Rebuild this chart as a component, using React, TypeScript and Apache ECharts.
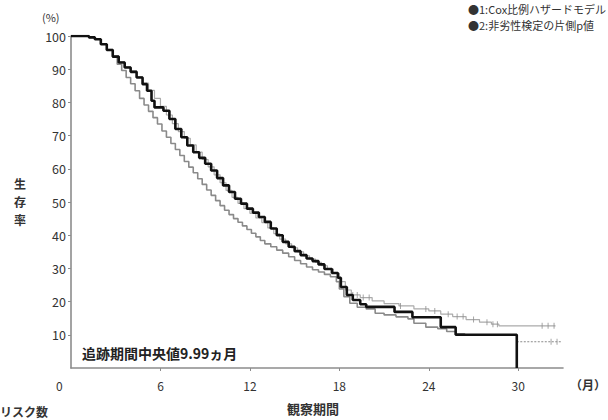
import React, { useEffect, useRef } from "react";
import * as echarts from "echarts";

// Kaplan-Meier curves: [month, survival %]
const curveBlack: [number, number][] = [
  [0, 100], [1.2, 99.6], [1.6, 99.0], [2.0, 97.5], [2.4, 95.8], [2.8, 93.8], [3.2, 92.0], [3.6, 90.5],
  [4.0, 89.2], [4.4, 87.5], [4.8, 85.5], [5.1, 83.5], [5.4, 80.5], [5.6, 78.5], [6.2, 77.5], [6.6, 75.0],
  [7.0, 72.0], [7.4, 69.5], [7.8, 67.0], [8.2, 65.0], [8.6, 63.3], [9.0, 61.5], [9.4, 59.5], [9.8, 57.2],
  [10.2, 55.0], [10.6, 53.0], [11.0, 51.0], [11.4, 49.5], [11.8, 48.0], [12.2, 46.8], [12.6, 45.5],
  [13.0, 44.0], [13.4, 42.0], [13.8, 40.0], [14.2, 38.0], [14.6, 36.5], [15.0, 35.2], [15.4, 34.0],
  [15.8, 33.0], [16.2, 32.2], [16.6, 31.2], [17.0, 29.8], [17.5, 28.6], [17.9, 27.2], [18.1, 24.4],
  [18.5, 22.0], [18.9, 20.5], [19.4, 19.2], [19.8, 18.4], [21.7, 16.9], [22.9, 15.3], [24.8, 12.3],
  [25.8, 10.0], [29.9, 0],
];

const curveGray: [number, number][] = [
  [0, 100], [1.2, 99.6], [1.6, 99.0], [2.0, 97.5], [2.4, 95.8], [2.8, 93.6], [3.1, 91.5], [3.4, 89.6],
  [3.7, 87.5], [4.0, 85.6], [4.3, 83.5], [4.6, 81.2], [4.9, 79.2], [5.2, 77.3], [5.5, 75.4], [5.8, 73.5],
  [6.1, 71.4], [6.4, 69.5], [6.7, 67.6], [7.0, 65.8], [7.3, 64.0], [7.6, 62.2], [7.9, 60.5], [8.2, 58.8],
  [8.5, 57.0], [8.8, 55.3], [9.1, 53.6], [9.4, 52.0], [9.7, 50.4], [10.0, 48.9], [10.3, 47.5], [10.6, 46.2],
  [10.9, 45.0], [11.2, 43.9], [11.5, 42.8], [11.8, 41.7], [12.1, 40.6], [12.4, 39.5], [12.7, 38.4],
  [13.0, 37.4], [13.4, 36.5], [13.8, 35.5], [14.2, 34.6], [14.6, 33.5], [15.0, 32.4], [15.4, 31.4],
  [15.8, 30.4], [16.2, 29.6], [16.6, 28.9], [17.0, 28.2], [17.4, 27.5], [17.8, 26.0], [18.0, 23.8],
  [18.3, 21.5], [18.7, 19.5], [19.2, 18.3], [19.8, 17.8], [20.4, 16.5], [21.0, 16.0], [21.8, 15.4],
  [22.6, 14.8], [23.0, 13.5], [23.8, 12.3], [24.6, 11.8], [25.2, 11.0], [25.8, 10.3], [26.4, 10.0],
  [29.9, 7.9],
];
const curveGrayTail: [number, number][] = [[29.9, 7.9], [32.9, 7.9]];

const curveLight: [number, number][] = [
  [0, 100], [1.2, 99.6], [1.6, 99.0], [2.0, 97.6], [2.4, 96.0], [2.8, 94.0], [3.2, 92.3], [3.6, 90.8],
  [4.0, 89.5], [4.4, 87.8], [4.8, 85.8], [5.2, 83.6], [5.6, 81.2], [6.0, 78.8], [6.4, 76.2], [6.8, 73.6],
  [7.2, 71.2], [7.6, 69.2], [8.0, 67.2], [8.4, 65.0], [8.8, 62.8], [9.2, 60.6], [9.6, 58.2], [10.0, 55.8],
  [10.4, 53.5], [10.8, 51.4], [11.2, 49.6], [11.6, 48.0], [12.0, 46.6], [12.4, 45.2], [12.8, 43.8],
  [13.2, 42.2], [13.6, 40.5], [14.0, 38.8], [14.4, 37.4], [14.8, 36.2], [15.2, 35.0], [15.6, 33.8],
  [16.0, 32.8], [16.4, 31.8], [16.8, 30.8], [17.2, 29.8], [17.6, 28.5], [18.0, 26.0], [18.4, 23.5],
  [18.8, 22.0], [19.4, 21.2], [20.2, 20.2], [21.0, 19.4], [22.0, 18.7], [23.0, 17.8], [24.0, 17.2],
  [24.8, 16.2], [25.6, 15.5], [26.5, 14.6], [27.4, 13.8], [28.2, 13.2], [28.7, 12.7], [32.5, 12.7],
];

const censorLight: [number, number][] = [
  [18.9, 22.0], [19.2, 22.0], [19.6, 21.2], [20.0, 21.2], [22.1, 18.7], [23.8, 17.8], [24.4, 17.2],
  [25.3, 16.2], [25.9, 15.5], [26.3, 15.5], [27.0, 14.6], [27.9, 13.8], [28.3, 13.2], [28.6, 13.2],
  [31.6, 12.7], [32.0, 12.7], [32.4, 12.7],
];
const censorGray: [number, number][] = [[32.2, 7.9], [32.6, 7.9]];

const xTicks = [6, 12, 18, 24, 30];
const yTicks = [10, 20, 30, 40, 50, 60, 70, 80, 90, 100];
const yTitleChars = ["生", "存", "率"];

const JP = '"Noto Sans CJK JP", "Noto Sans", sans-serif';

export default function App() {
  const ref = useRef<HTMLDivElement>(null);
  useEffect(() => {
    if (!ref.current) return;
    const chart = echarts.init(ref.current, null, { renderer: "svg" });
    chart.setOption({
      animation: false,
      backgroundColor: "#ffffff",
      grid: { left: 71, top: 36, width: 492, height: 332, containLabel: false },
      xAxis: {
        type: "value",
        min: 0,
        max: 33,
        interval: 6,
        axisLine: { lineStyle: { color: "#8c8c8c", width: 1.6 } },
        axisTick: { show: true, length: 3, customValues: xTicks, lineStyle: { color: "#8c8c8c" } },
        axisLabel: {
          customValues: xTicks,
          margin: 11,
          color: "#333",
          fontSize: 12,
          fontFamily: JP,
        },
        splitLine: { show: false },
      },
      yAxis: {
        type: "value",
        min: 0,
        max: 100,
        interval: 10,
        axisLine: { show: true, lineStyle: { color: "#8c8c8c", width: 1.6 } },
        axisTick: { show: true, length: 3, customValues: yTicks, lineStyle: { color: "#8c8c8c" } },
        axisLabel: {
          customValues: yTicks,
          margin: 5,
          color: "#333",
          fontSize: 12.5,
          fontFamily: JP,
        },
        splitLine: { show: false },
      },
      series: [
        {
          type: "line", step: "end", data: curveLight, showSymbol: false, symbol: "none",
          lineStyle: { color: "#ababab", width: 1.2 }, z: 2,
        },
        {
          type: "line", step: "end", data: curveGray, showSymbol: false, symbol: "none",
          lineStyle: { color: "#8a8a8a", width: 1.6 }, z: 3,
        },
        {
          type: "line", step: "end", data: curveGrayTail, showSymbol: false, symbol: "none",
          lineStyle: { color: "#8a8a8a", width: 1.2, type: [2, 1.5] }, z: 3,
        },
        {
          type: "line", step: "end", data: curveBlack, showSymbol: false, symbol: "none",
          lineStyle: { color: "#111111", width: 2.6 }, z: 5,
        },
        {
          type: "scatter", data: censorLight, symbol: "rect", symbolSize: [1, 6],
          itemStyle: { color: "#8f8f8f" }, z: 4,
        },
        {
          type: "scatter", data: censorGray, symbol: "rect", symbolSize: [1, 6],
          itemStyle: { color: "#8f8f8f" }, z: 4,
        },
      ],
      graphic: [
        { type: "text", left: 42, top: 11, style: { text: "(%)", fontSize: 11, fontFamily: JP, fill: "#333" } },
        ...yTitleChars.map((ch, i) => ({
          type: "text", left: 14, top: 177 + i * 18,
          style: { text: ch, fontSize: 12, fontWeight: "bold", fontFamily: JP, fill: "#333" },
        })),
        { type: "text", left: 56, top: 379, style: { text: "0", fontSize: 12, fontFamily: JP, fill: "#333" } },
        { type: "text", left: 570, top: 378, style: { text: "（月）", fontSize: 12, fontWeight: "bold", fontFamily: JP, fill: "#333" } },
        { type: "text", left: 287, top: 402, style: { text: "観察期間", fontSize: 13, fontWeight: "bold", fontFamily: JP, fill: "#333" } },
        { type: "text", left: 0, top: 405, style: { text: "リスク数", fontSize: 12, fontWeight: "bold", fontFamily: JP, fill: "#333" } },
        {
          type: "text", left: 82, top: 346,
          style: { text: "追跡期間中央値9.99ヵ月", fontSize: 14, fontWeight: "bold", fontFamily: JP, fill: "#222" },
        },
        {
          type: "text", left: 468, top: 3,
          style: { text: "●1:Cox比例ハザードモデル", fontSize: 11, fontFamily: JP, fill: "#333" },
        },
        {
          type: "text", left: 468, top: 19,
          style: { text: "●2:非劣性検定の片側p値", fontSize: 11, fontFamily: JP, fill: "#333" },
        },
      ],
    });
    return () => chart.dispose();
  }, []);
  return (
    <div
      ref={ref}
      style={{ position: "fixed", left: 0, top: 0, width: 608, height: 420, background: "#fff" }}
    />
  );
}
